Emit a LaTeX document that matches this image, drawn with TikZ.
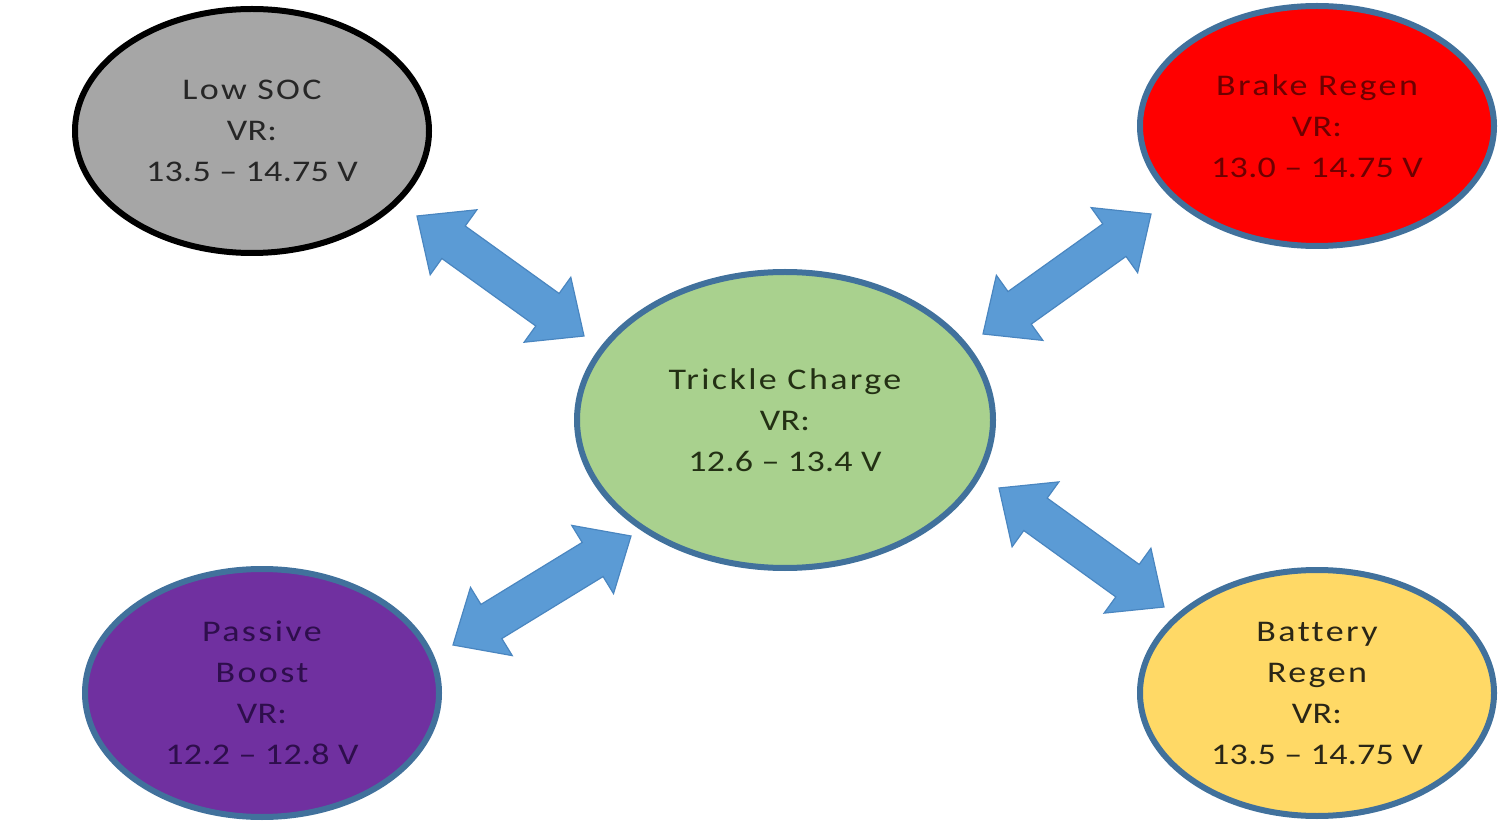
\documentclass[tikz,border=0pt]{standalone}
\usepackage{fontspec}
\setmainfont{Carlito}[FakeStretch=1.2,LetterSpace=1]
\newfontfamily\wordfont{Carlito}[FakeStretch=1.2,LetterSpace=8,Ligatures=NoCommon]
\usetikzlibrary{shapes.geometric,calc}
\definecolor{bordblue}{HTML}{41719C}
\definecolor{socgray}{HTML}{A6A6A6}
\definecolor{brakered}{HTML}{FF0000}
\definecolor{tricklegreen}{HTML}{A9D18E}
\definecolor{boostpurple}{HTML}{7030A0}
\definecolor{battyellow}{HTML}{FFD966}
\definecolor{arrowblue}{HTML}{5B9BD5}
\definecolor{arrowedge}{HTML}{4A86C0}
\definecolor{txtgray}{HTML}{262626}
\definecolor{txtred}{HTML}{6E0000}
\definecolor{txtgreen}{HTML}{233014}
\definecolor{txtpurple}{HTML}{2E0E4C}
\definecolor{txtyellow}{HTML}{2A2616}
\tikzset{
  state/.style={ellipse, draw=bordblue, line width=3pt, inner sep=0pt,
    align=center, font=\fontsize{15}{20.5}\selectfont},
  barrow/.style={fill=arrowblue, draw=arrowedge, line width=0.6pt, line join=miter},
}
% double block arrow between two named coordinates
\newcommand\dblarrow[2]{%
  \path ($(#1)!22.5pt!(#2)$) coordinate (#1h) ($(#2)!22.5pt!(#1)$) coordinate (#2h);
  \draw[barrow] (#1)
    -- ($(#1h)!20pt!90:(#2)$) -- ($(#1h)!10pt!90:(#2)$)
    -- ($(#2h)!10pt!-90:(#1)$) -- ($(#2h)!20pt!-90:(#1)$)
    -- (#2)
    -- ($(#2h)!20pt!90:(#1)$) -- ($(#2h)!10pt!90:(#1)$)
    -- ($(#1h)!10pt!-90:(#2)$) -- ($(#1h)!20pt!-90:(#2)$)
    -- cycle;}
\begin{document}
\begin{tikzpicture}[x=0.5pt,y=-0.5pt]
\useasboundingbox (0,0) rectangle (1510,828);
\node[state, fill=socgray, draw=black, text=txtgray, minimum width=177pt, minimum height=122pt]
  (soc) at (252,131) {{\wordfont Low SOC}\\VR:\\13.5 – 14.75 V};
\node[state, fill=brakered, text=txtred, minimum width=177pt, minimum height=120pt]
  (brake) at (1317,126) {{\wordfont Brake Regen}\\VR:\\13.0 – 14.75 V};
\node[state, fill=tricklegreen, text=txtgreen, minimum width=208pt, minimum height=148pt]
  (trickle) at (785,420) {{\wordfont Trickle Charge}\\VR:\\12.6 – 13.4 V};
\node[state, fill=boostpurple, text=txtpurple, minimum width=177pt, minimum height=124pt]
  (boost) at (262,693) {{\wordfont Passive}\\{\wordfont Boost}\\VR:\\12.2 – 12.8 V};
\node[state, fill=battyellow, text=txtyellow, minimum width=177pt, minimum height=123pt]
  (batt) at (1317,693) {{\wordfont Battery}\\{\wordfont Regen}\\VR:\\13.5 – 14.75 V};
\coordinate (a1s) at (417,216); \coordinate (a1e) at (584,336);
\coordinate (a2s) at (983,334); \coordinate (a2e) at (1151,214);
\coordinate (a3s) at (453,645); \coordinate (a3e) at (631,536);
\coordinate (a4s) at (999,488); \coordinate (a4e) at (1164,607);
\dblarrow{a1s}{a1e}
\dblarrow{a2s}{a2e}
\dblarrow{a3s}{a3e}
\dblarrow{a4s}{a4e}
\end{tikzpicture}
\end{document}
